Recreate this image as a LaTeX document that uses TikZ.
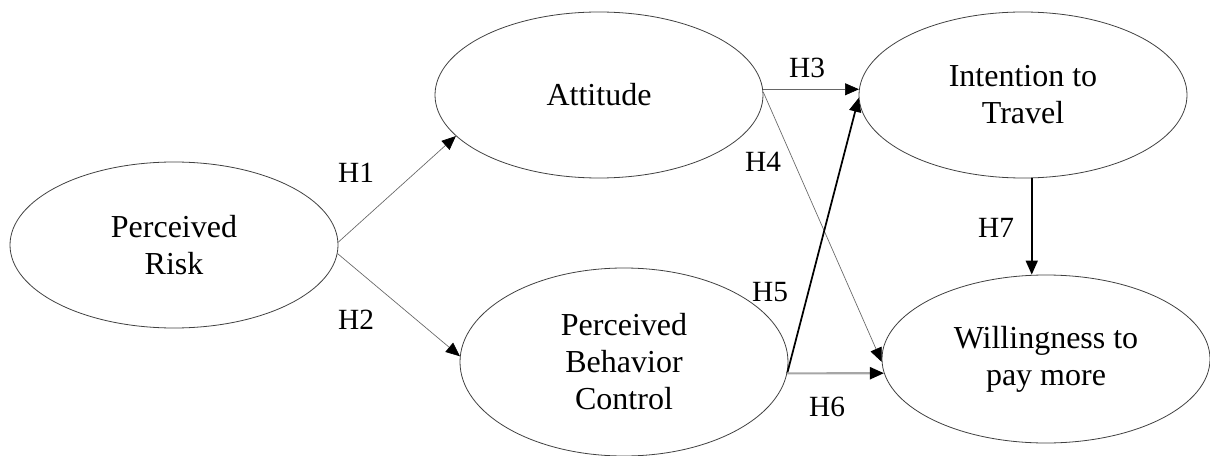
\documentclass[tikz,border=0pt]{standalone}
\usepackage{fontspec}
\setmainfont{Liberation Serif}
\usetikzlibrary{shapes.geometric,arrows.meta}
\begin{document}
\begin{tikzpicture}[x=0.75pt,y=-0.75pt,
  construct/.style={ellipse,draw=black!75,line width=0.6pt,inner sep=0pt,
    minimum width=246pt,minimum height=124.5pt,align=center,
    font=\fontsize{24}{27.75}\selectfont},
  hlabel/.style={font=\fontsize{22}{26}\selectfont,inner sep=0pt},
  tip/.style={-{Triangle[length=10.5pt,width=9pt,black]}},
  thinarrow/.style={tip,draw=black!60,line width=0.5pt},
  boldarrow/.style={tip,draw=black,line width=1.3pt},
  grayarrow/.style={tip,draw=black!35,line width=1.6pt}
]
\useasboundingbox (0,0) rectangle (1210,456);
\node[construct] (pr) at (174,245) {Perceived\\Risk};
\node[construct] (att) at (599,95) {Attitude};
\node[construct,minimum height=141pt] (pbc) at (624,362) {Perceived\\Behavior\\Control};
\node[construct] (itt) at (1023,95) {Intention to\\Travel};
\node[construct,minimum height=126pt] (wtp) at (1046,359) {Willingness to\\pay more};

\draw[thinarrow] (pr.1) -- (att.196);
\draw[thinarrow] (pr.-3) -- (pbc.178);
\draw[thinarrow] (att.2) -- (itt.178);
\draw[thinarrow] (att.1) -- (wtp.181.5);
\draw[boldarrow] (pbc.-4) -- (itt.181);
\draw[grayarrow] (pbc.-4) -- (wtp.185);
\draw[boldarrow] (itt.-84) -- (itt.-84 |- wtp.north);

\node[hlabel] (h1) at (356,173) {H1};
\node[hlabel] (h2) at (356,320) {H2};
\node[hlabel] (h3) at (807,68) {H3};
\node[hlabel] (h4) at (763,162) {H4};
\node[hlabel] (h5) at (770,292) {H5};
\node[hlabel] (h6) at (827,407) {H6};
\node[hlabel] (h7) at (996,228) {H7};
\end{tikzpicture}
\end{document}
